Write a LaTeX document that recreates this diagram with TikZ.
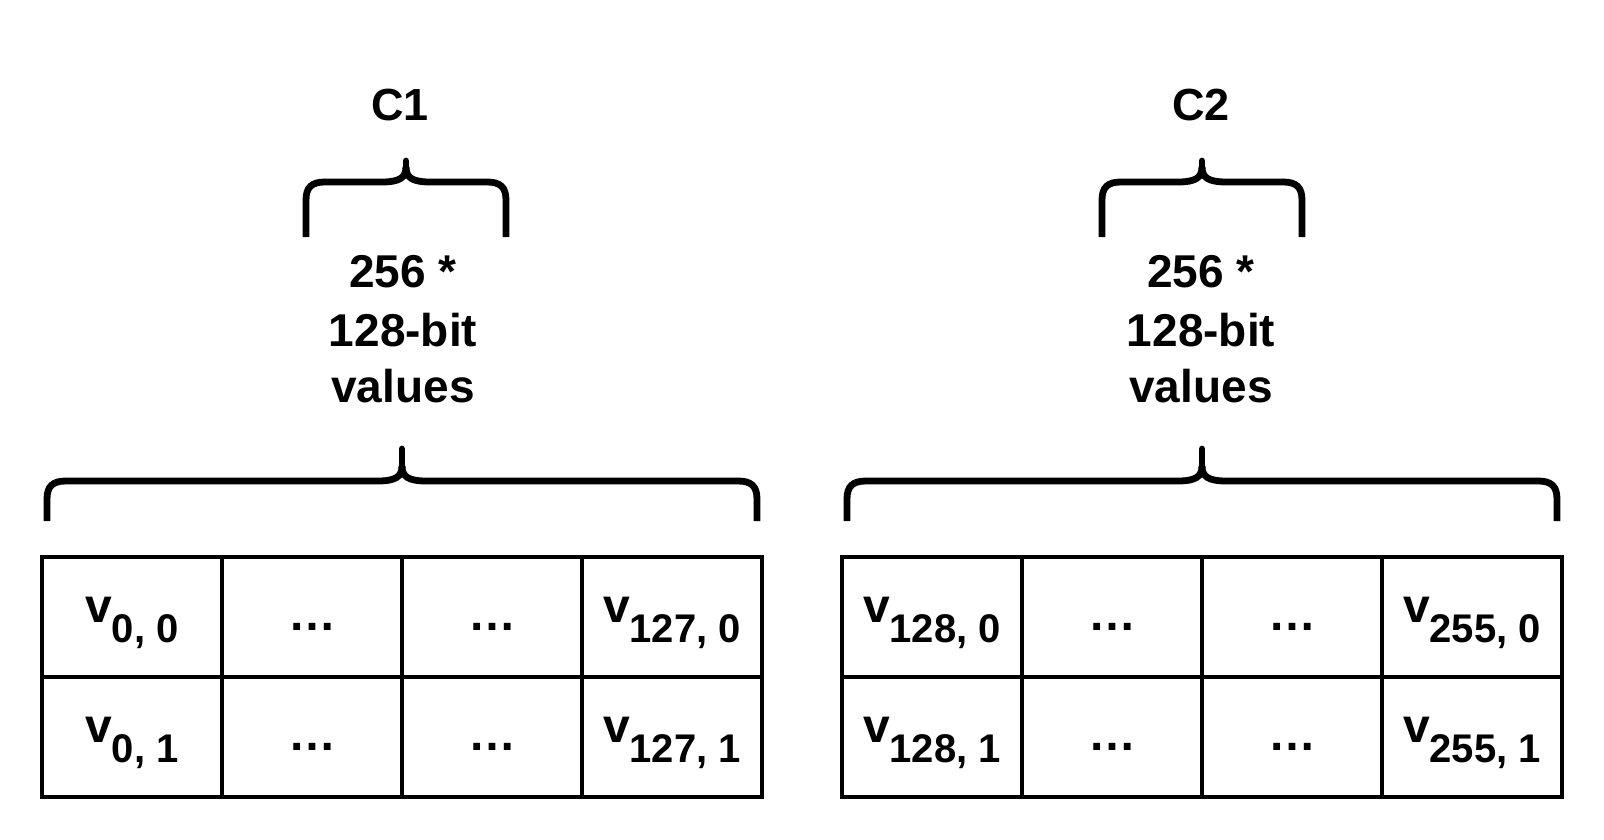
\documentclass[tikz,border=0pt]{standalone}
\usepackage{fontspec}
\setmainfont{Liberation Sans}
\usetikzlibrary{calc}
\newcommand\drawbrace[6]{%
  \draw[bracestyle] (#1,#6) -- (#1,{#5+18}) .. controls (#1,{#5+5}) and ({#1+6},#5) .. ({#1+19},#5) -- ({#3-24},#5) .. controls ({#3-7},#5) and (#3,{#5-4}) .. (#3,{#5-15});
  \draw[bracestyle] (#2,#6) -- (#2,{#5+18}) .. controls (#2,{#5+5}) and ({#2-6},#5) .. ({#2-19},#5) -- ({#3+24},#5) .. controls ({#3+7},#5) and (#3,{#5-4}) .. (#3,{#5-15});
  \draw[bracestyle, line cap=round] (#3,{#5-13}) -- (#3,#4);
}
\newcommand\subtxt[1]{\raisebox{-20pt}{\fontsize{40}{48}\selectfont #1}}
\begin{document}
\begin{tikzpicture}[x=1pt,y=-1pt,
  cell/.style={draw, line width=3.3pt, minimum width=180pt, minimum height=120pt, inner sep=0pt, outer sep=0pt, anchor=north west},
  celltxt/.style={anchor=base, inner sep=0pt, font=\fontsize{48}{56}\selectfont\bfseries},
  lbl/.style={anchor=base, inner sep=0pt, font=\fontsize{46}{54}\selectfont\bfseries},
  ctitle/.style={anchor=base, inner sep=0pt, font=\fontsize{45}{54}\selectfont\bfseries},
  bracestyle/.style={line width=6.8pt}
]
\useasboundingbox (0,0) rectangle (1604,840);
\fill[white] (0,0) rectangle (1604,840);

% tables
\foreach \t/\xo in {L/42, R/842}
  \foreach \r/\yo in {0/557, 1/677}
    \foreach \c in {0,1,2,3}
      \node[cell] (\t\r\c) at ({\xo+180*\c},\yo) {};

% left table texts
\node[celltxt] (tL00) at ($(L00.center)+(0,5)$) {v\subtxt{0, 0}};
\node[celltxt] (tL01) at ($(L01.center)+(0,13)$) {…};
\node[celltxt] (tL02) at ($(L02.center)+(0,13)$) {…};
\node[celltxt] (tL03) at ($(L03.center)+(0,5)$) {v\subtxt{127, 0}};
\node[celltxt] (tL10) at ($(L10.center)+(0,5)$) {v\subtxt{0, 1}};
\node[celltxt] (tL11) at ($(L11.center)+(0,13)$) {…};
\node[celltxt] (tL12) at ($(L12.center)+(0,13)$) {…};
\node[celltxt] (tL13) at ($(L13.center)+(0,5)$) {v\subtxt{127, 1}};

% right table texts
\node[celltxt] (tR00) at ($(R00.center)+(0,5)$) {v\subtxt{128, 0}};
\node[celltxt] (tR01) at ($(R01.center)+(0,13)$) {…};
\node[celltxt] (tR02) at ($(R02.center)+(0,13)$) {…};
\node[celltxt] (tR03) at ($(R03.center)+(0,5)$) {v\subtxt{255, 0}};
\node[celltxt] (tR10) at ($(R10.center)+(0,5)$) {v\subtxt{128, 1}};
\node[celltxt] (tR11) at ($(R11.center)+(0,13)$) {…};
\node[celltxt] (tR12) at ($(R12.center)+(0,13)$) {…};
\node[celltxt] (tR13) at ($(R13.center)+(0,5)$) {v\subtxt{255, 1}};

% braces
\drawbrace{47}{757}{402}{449}{481}{521}
\drawbrace{847}{1557}{1202}{449}{481}{521}
\drawbrace{306}{506}{406}{161}{182}{237}
\drawbrace{1102}{1302}{1202}{161}{182}{237}

% labels
\node[ctitle] (c1) at (400,121) {C1};
\node[lbl] (l1a) at (403,287) {256 *};
\node[lbl] (l1b) at (403,346) {128-bit};
\node[lbl] (l1c) at (403,402) {values};
\node[ctitle] (c2) at (1201,121) {C2};
\node[lbl] (l2a) at (1201,287) {256 *};
\node[lbl] (l2b) at (1201,346) {128-bit};
\node[lbl] (l2c) at (1201,402) {values};
\end{tikzpicture}
\end{document}
